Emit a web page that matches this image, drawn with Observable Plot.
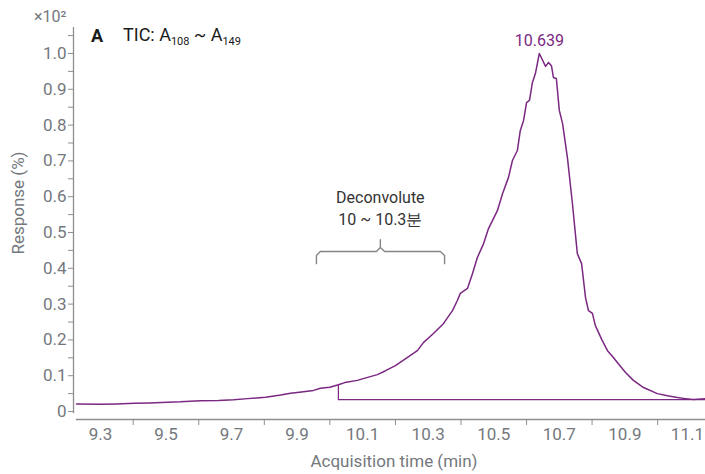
<!DOCTYPE html>
<html><head><meta charset="utf-8">
<script src="https://cdn.jsdelivr.net/npm/d3@7"></script>
<script src="https://cdn.jsdelivr.net/npm/@observablehq/plot@0.6"></script>
<style>body{margin:0;background:#fff} svg{display:block}</style>
</head><body><div id="chart"></div>
<script>
// TIC trace (acquisition time in min, response ×10² %)
const times = [9.227, 9.30, 9.35, 9.404, 9.45, 9.505, 9.544, 9.605, 9.66, 9.706, 9.75, 9.804, 9.85, 9.880, 9.907, 9.950, 9.971, 10.0, 10.026, 10.05, 10.084, 10.11, 10.145, 10.17, 10.200, 10.237, 10.267, 10.286, 10.316, 10.347, 10.374, 10.389, 10.398, 10.420, 10.435, 10.450, 10.469, 10.484, 10.511, 10.527, 10.545, 10.557, 10.572, 10.581, 10.591, 10.600, 10.609, 10.618, 10.627, 10.639, 10.658, 10.667, 10.676, 10.682, 10.691, 10.700, 10.710, 10.725, 10.740, 10.755, 10.768, 10.780, 10.789, 10.801, 10.810, 10.830, 10.847, 10.865, 10.877, 10.902, 10.926, 10.957, 10.999, 11.030, 11.060, 11.085, 11.109, 11.146];
const responses = [0.021, 0.020, 0.021, 0.023, 0.024, 0.026, 0.027, 0.030, 0.031, 0.033, 0.036, 0.040, 0.046, 0.051, 0.054, 0.059, 0.065, 0.068, 0.075, 0.082, 0.087, 0.094, 0.103, 0.114, 0.128, 0.151, 0.170, 0.193, 0.218, 0.246, 0.282, 0.310, 0.330, 0.344, 0.385, 0.430, 0.469, 0.511, 0.561, 0.609, 0.654, 0.701, 0.729, 0.785, 0.813, 0.863, 0.869, 0.919, 0.944, 1.000, 0.964, 0.975, 0.966, 0.933, 0.930, 0.841, 0.804, 0.707, 0.581, 0.441, 0.413, 0.318, 0.282, 0.274, 0.240, 0.200, 0.170, 0.151, 0.137, 0.109, 0.087, 0.067, 0.050, 0.044, 0.039, 0.036, 0.0335, 0.036];

// integration baseline
const baselineT = [10.026, 10.026, 11.146];
const baselineY = [0.075, 0.033, 0.033];

// bracket marking the deconvolution window
const bracketT = [9.959, 9.959, 9.971, 10.142, 10.154, 10.154, 10.154, 10.167, 10.337, 10.350, 10.350];
const bracketY = [0.413, 0.436, 0.447, 0.447, 0.458, 0.480, 0.458, 0.447, 0.447, 0.436, 0.413];

const yTicks = [0, 0.1, 0.2, 0.3, 0.4, 0.5, 0.6, 0.7, 0.8, 0.9, 1.0];
const yMinor = [0.05, 0.15, 0.25, 0.35, 0.45, 0.55, 0.65, 0.75, 0.85, 0.95, 1.05];
const xLabels = [9.3, 9.5, 9.7, 9.9, 10.1, 10.3, 10.5, 10.7, 10.9];
const xLastLabel = [11.1];
const xTickMarks = [9.4, 9.6, 9.8, 10.0, 10.2, 10.4, 10.6, 10.8, 11.0];
const xDomain = [9.227, 11.146];
const yDomain = [-0.0223, 1.0726];

const peakLabel = [{t: 10.639, y: 1.036, text: "10.639"}];
const annot = [
  {t: 10.154, y: 0.598, text: "Deconvolute"},
  {t: 10.154, y: 0.534, text: "10 ~ 10.3분"}
];
const xTitle = "Acquisition time (min)";
const yTitle = "Response (%)";

const purple = "#7b2882";
const gray = "#74787d";
const axisGray = "#8e8e8e";
const font = "Roboto, sans-serif";

const trace = times.map((t, i) => ({t, y: responses[i]}));
const baseline = baselineT.map((t, i) => ({t, y: baselineY[i]}));
const bracket = bracketT.map((t, i) => ({t, y: bracketY[i]}));

const chart = Plot.plot({
  width: 705,
  height: 474,
  marginLeft: 76,
  marginRight: 0,
  marginTop: 27,
  marginBottom: 55,
  style: {fontFamily: font, fontSize: "16px", background: "#fff", overflow: "visible"},
  x: {domain: xDomain},
  y: {domain: yDomain},
  marks: [
    Plot.frame({anchor: "bottom", stroke: axisGray, strokeWidth: 1.3}),
    Plot.ruleX([xDomain[0]], {y1: -0.006, y2: yDomain[1], dx: -3, stroke: axisGray, strokeWidth: 1.3}),
    Plot.axisY({ticks: yTicks, tickSize: 5, tickPadding: 2, dx: -3, tickFormat: d => d === 0 ? "0" : d.toFixed(1), label: null, color: gray, fontSize: 17, stroke: axisGray}),
    Plot.axisY({ticks: yMinor, tickSize: 5, tickPadding: 2, dx: -3, tickFormat: () => "", label: null, stroke: axisGray}),
    Plot.axisX({ticks: xTickMarks, tickSize: 6, tickFormat: () => "", label: null, stroke: axisGray}),
    Plot.axisX({ticks: xLabels, tickSize: 0, tickPadding: 8, tickFormat: d => d.toFixed(1), label: null, color: gray, fontSize: 17}),
    Plot.axisX({ticks: xLastLabel, tickSize: 0, tickPadding: 8, dx: -3, tickFormat: d => d.toFixed(1), label: null, color: gray, fontSize: 17}),
    Plot.line(baseline, {x: "t", y: "y", stroke: purple, strokeWidth: 1.2}),
    Plot.line(trace, {x: "t", y: "y", stroke: purple, strokeWidth: 1.5}),
    Plot.line(bracket, {x: "t", y: "y", stroke: "#858585", strokeWidth: 1.4}),
    Plot.text(peakLabel, {x: "t", y: "y", text: "text", fill: purple, fontSize: 16}),
    Plot.text(annot, {x: "t", y: "y", text: "text", fill: "#333", fontSize: 16}),
    Plot.text([xTitle], {frameAnchor: "bottom", dy: 47, dx: 3, text: d => d, fill: gray, fontSize: 17})
  ]
});

const svg = d3.select(chart);
// rotated y-axis title
svg.append("text")
  .attr("transform", "translate(24,203) rotate(-90)")
  .attr("text-anchor", "middle").attr("fill", gray)
  .style("font-size", "17px").style("font-family", font).text(yTitle);
// scale factor
svg.append("text").attr("x", 34).attr("y", 22).attr("text-anchor", "start").attr("fill", gray)
  .style("font-size", "16px").style("font-family", font).text("×10²");
// panel letter and title with subscripts
svg.append("text").attr("x", 91).attr("y", 42).attr("text-anchor", "start").attr("fill", "#1a1a1a")
  .style("font-size", "18px").style("font-weight", "bold").style("font-family", font).text("A");
const title = svg.append("text").attr("x", 123).attr("y", 41).attr("text-anchor", "start").attr("fill", "#1a1a1a")
  .style("font-size", "18px").style("font-family", font);
title.append("tspan").text("TIC: A");
title.append("tspan").attr("dy", 4).style("font-size", "11px").text("108");
title.append("tspan").attr("dy", -4).text(" ~ A");
title.append("tspan").attr("dy", 4).style("font-size", "11px").text("149");

document.getElementById("chart").append(chart);
</script>
</body></html>
